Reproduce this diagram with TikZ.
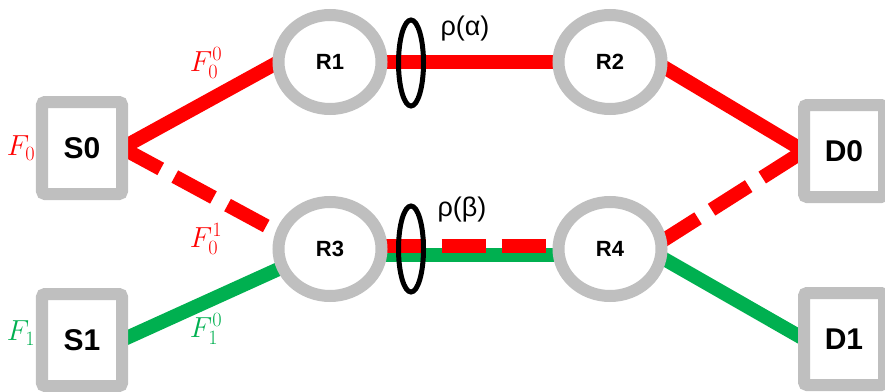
\RequirePackage{fix-cm}
\documentclass[tikz,border=0pt]{standalone}
\usepackage{fontspec}
\setmainfont{Liberation Sans}
\usetikzlibrary{shapes, arrows, backgrounds}
\definecolor{linkred}{RGB}{255,0,0}
\definecolor{linkgreen}{RGB}{0,176,80}
\definecolor{boxgray}{RGB}{191,191,191}
\tikzstyle{host} = [rectangle, rounded corners=3pt, minimum width=80pt, minimum height=92pt, line width=12pt, draw=boxgray, fill=white, outer sep=0pt, font=\fontsize{30}{30}\selectfont\bfseries]
\tikzstyle{router} = [ellipse, minimum width=103pt, minimum height=94pt, inner sep=0pt, line width=12pt, draw=boxgray, fill=white, outer sep=0pt, font=\fontsize{22}{22}\selectfont\bfseries]
\tikzstyle{group} = [ellipse, minimum width=25pt, minimum height=86pt, inner sep=0pt, line width=5pt, draw=black]
\tikzstyle{flowred} = [line width=14pt, draw=linkred]
\tikzstyle{flowgreen} = [line width=14pt, draw=linkgreen]
\tikzstyle{backup} = [dash pattern=on 44pt off 16pt]
\tikzstyle{share} = [font=\fontsize{27}{27}\selectfont]
\tikzstyle{flowlabel} = [font=\fontsize{29}{29}\selectfont]

\begin{document}
\begin{tikzpicture}[node distance=280pt]

\useasboundingbox (-82pt,-243pt) rectangle (803pt,148pt);

% Nodes
\node (S0) [host] {S0};
\node (R1) [router, right of=S0, xshift=-32pt, yshift=86pt] {R1};
\node (R2) [router, right of=R1] {R2};
\node (D0) [host, right of=R2, xshift=-46pt, yshift=-89pt] {D0};
\node (R3) [router, below of=R1, yshift=93pt] {R3};
\node (R4) [router, right of=R3] {R4};
\node (S1) [host, below of=S0, yshift=88pt] {S1};
\node (D1) [host, below of=D0, yshift=92pt] {D1};

% Shared links
\node (alpha) [group, right of=R1, xshift=-199pt, yshift=-1pt] {};
\node (beta) [group, right of=R3, xshift=-199pt] {};
\node (rhoA) [share, right of=alpha, xshift=-226pt, yshift=34pt] {ρ(α)};
\node (rhoB) [share, right of=beta, xshift=-229pt, yshift=39pt] {ρ(β)};

% Flow labels
\node (F0) [flowlabel, text=linkred, left of=S0, xshift=219pt] {$F_0$};
\node (F00) [flowlabel, text=linkred, right of=S0, xshift=-156pt, yshift=85pt] {$F_0^0$};
\node (F01) [flowlabel, text=linkred, right of=S0, xshift=-156pt, yshift=-91pt] {$F_0^1$};
\node (F1) [flowlabel, text=linkgreen, left of=S1, xshift=219pt, yshift=7pt] {$F_1$};
\node (F10) [flowlabel, text=linkgreen, right of=S1, xshift=-156pt, yshift=11pt] {$F_1^0$};

% Links
\begin{pgfonlayer}{background}
\draw [flowgreen] (S1.east) -- (R3.201);
\draw [flowgreen] ([yshift=-6pt]R3.east) -- ([yshift=-6pt]R4.west);
\draw [flowgreen] (R4.-9) -- (D1.west);
\draw [flowred] (S0.east) -- (R1.west);
\draw [flowred] (R1.east) -- (R2.west);
\draw [flowred] (R2.-4) -- (D0.west);
\draw [flowred, backup] (S0.east) -- (R3.163);
\draw [flowred, backup] ([yshift=3pt]R3.east) -- ([yshift=3pt]R4.west);
\draw [flowred, backup] (R4.8) -- (D0.west);
\end{pgfonlayer}

\end{tikzpicture}
\end{document}
